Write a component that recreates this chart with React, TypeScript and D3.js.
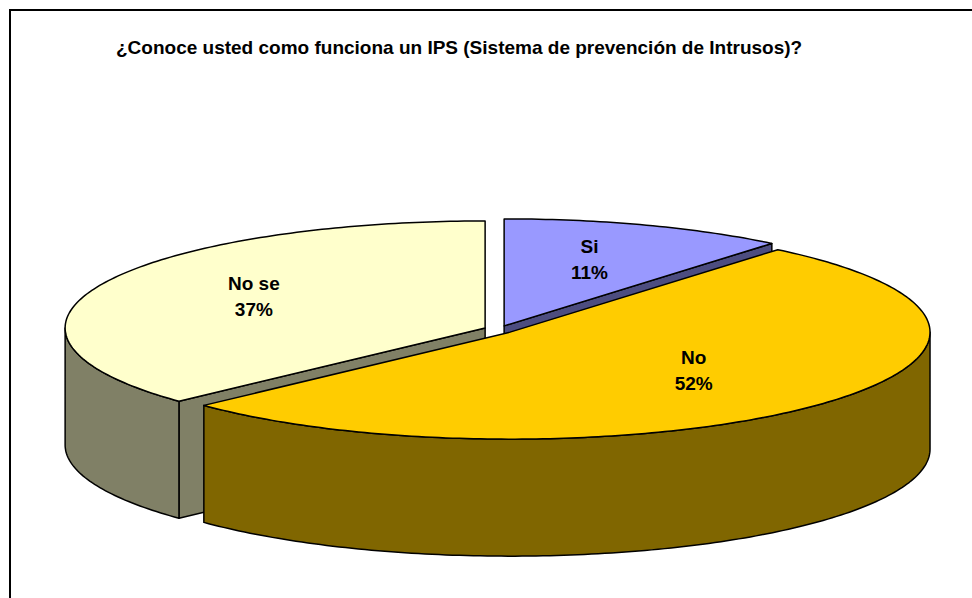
import React, { useEffect, useRef } from 'react'
import * as d3 from 'd3'

// chart data
const title = '¿Conoce usted como funciona un IPS (Sistema de prevención de Intrusos)?'
const categories = ['Si', 'No', 'No se']
const percentages = [11, 52, 37]
const topColors = ['#9999FF', '#FFCC00', '#FFFFCC']

const width = 972
const height = 598

const App: React.FC = () => {
  const svgRef = useRef<SVGSVGElement>(null)

  useEffect(() => {
    if (!svgRef.current) return
    const svg = d3.select(svgRef.current)
    svg.selectAll('*').remove()

    // 3D pie geometry (ellipse seen with elevation)
    const cx = 499
    const cy = 329.5
    const rx = 420
    const ry = 107
    const depth = 117
    const explode = 0.036
    const labelR = 0.6
    const font = 'Arial, "Liberation Sans", sans-serif'

    // frame
    svg
      .append('rect')
      .attr('x', 10)
      .attr('y', 10)
      .attr('width', width + 20)
      .attr('height', height + 20)
      .attr('fill', '#fff')
      .attr('stroke', '#000')
      .attr('stroke-width', 2)

    svg
      .append('text')
      .attr('x', 116)
      .attr('y', 54)
      .style('font-family', font)
      .style('font-size', '19px')
      .style('font-weight', 'bold')
      .attr('fill', '#000')
      .text(title)

    const arcs = d3
      .pie<number>()
      .sort(null)
      .value((d) => d)(percentages)

    // Excel-style side shading: half of the top colour
    const half = (c: string) => {
      const rgb = d3.rgb(c)
      return d3.rgb(rgb.r / 2, rgb.g / 2, rgb.b / 2).formatHex()
    }

    const line = d3.line<[number, number]>()

    const slices = arcs.map((a, i) => {
      const mid = (a.startAngle + a.endAngle) / 2
      const ox = explode * rx * Math.sin(mid)
      const oy = -explode * ry * Math.cos(mid)
      const pt = (t: number, r = 1, z = 0): [number, number] => [
        cx + ox + rx * r * Math.sin(t),
        cy + oy - ry * r * Math.cos(t) + z
      ]
      return { a, i, mid, ox, oy, pt }
    })

    // back to front
    const order = [...slices].sort((p, q) => Math.cos(q.mid) - Math.cos(p.mid))

    const arcPts = (pt: (t: number, r?: number, z?: number) => [number, number], t0: number, t1: number, z = 0) => {
      const n = Math.max(2, Math.ceil(Math.abs(t1 - t0) * 60))
      return d3.range(n + 1).map((k) => pt(t0 + ((t1 - t0) * k) / n, 1, z))
    }

    order.forEach((s) => {
      const { a, i, pt } = s
      const side = half(topColors[i])
      const g = svg.append('g')
      const drawPoly = (pts: [number, number][], fill: string) =>
        g
          .append('path')
          .attr('d', line(pts) + 'Z')
          .attr('fill', fill)
          .attr('stroke', '#000')
          .attr('stroke-width', 1.5)
          .attr('stroke-linejoin', 'round')

      // radial faces facing the viewer
      const radial = (t: number, normal: number) => {
        if (Math.cos(normal) >= -1e-6) return
        drawPoly([pt(0, 0), pt(t), pt(t, 1, depth), pt(0, 0, depth)], side)
      }
      radial(a.startAngle, a.startAngle - Math.PI / 2)
      radial(a.endAngle, a.endAngle + Math.PI / 2)

      // outer curved face (front half only)
      const s0 = Math.max(a.startAngle, Math.PI / 2)
      const s1 = Math.min(a.endAngle, (3 * Math.PI) / 2)
      if (s1 > s0) {
        const topArc = arcPts(pt, s0, s1)
        const botArc = arcPts(pt, s1, s0, depth)
        drawPoly([...topArc, ...botArc], side)
      }

      // top face
      drawPoly([pt(0, 0), ...arcPts(pt, a.startAngle, a.endAngle)], topColors[i])
    })

    // labels
    slices.forEach((s) => {
      const [lx, ly] = s.pt(s.mid, labelR)
      const t = svg
        .append('text')
        .attr('text-anchor', 'middle')
        .style('font-family', font)
        .style('font-size', '19px')
        .style('font-weight', 'bold')
        .attr('fill', '#000')
      t.append('tspan').attr('x', lx).attr('y', ly - 12).text(categories[s.i])
      t.append('tspan').attr('x', lx).attr('y', ly + 14).text(`${percentages[s.i]}%`)
    })
  }, [])

  return (
    <svg
      ref={svgRef}
      width={width}
      height={height}
      style={{ position: 'absolute', left: 0, top: 0, background: '#fff' }}
    ></svg>
  )
}

export default App
